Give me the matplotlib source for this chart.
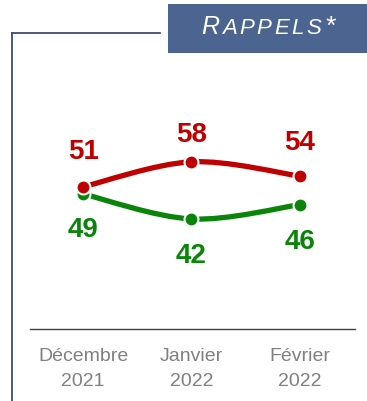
import matplotlib
matplotlib.use("Agg")
import matplotlib.pyplot as plt
import numpy as np
from matplotlib.path import Path
from matplotlib.patches import PathPatch, Rectangle
from matplotlib.lines import Line2D

plt.rcParams['font.family'] = ['Liberation Sans', 'DejaVu Sans']

months = ["Décembre\n2021", "Janvier\n2022", "Février\n2022"]
red_vals = [51, 58, 54]
green_vals = [49, 42, 46]

RED = "#c00000"
GREEN = "#0a850a"
NAVY = "#3a4d75"
BOX = "#4c6590"

# label offsets in points (above red, below green)
red_off = [25, 19, 24]
green_off = [-26, -27, -27]


def smooth_path(xs, ys):
    # cubic bezier through the points, Catmull-Rom style tangents
    pts = np.column_stack([xs, ys]).astype(float)
    n = len(pts)
    verts = [pts[0]]
    codes = [Path.MOVETO]
    for i in range(n - 1):
        p0 = pts[i - 1] if i > 0 else pts[i]
        p1 = pts[i]
        p2 = pts[i + 1]
        p3 = pts[i + 2] if i + 2 < n else pts[i + 1]
        c1 = p1 + (p2 - p0) / 6.0
        c2 = p2 - (p3 - p1) / 6.0
        verts += [c1, c2, p2]
        codes += [Path.CURVE4] * 3
    return Path(verts, codes)


fig = plt.figure(figsize=(3.67, 4.01), dpi=100)
W, H = 367, 401

ax = fig.add_axes([30 / W, 1 - 329 / H, 325 / W, 269 / H])
x = np.arange(len(months))

for vals, col, offs in [(green_vals, GREEN, green_off), (red_vals, RED, red_off)]:
    ax.add_patch(PathPatch(smooth_path(x, vals), fill=False, edgecolor=col,
                           lw=3.8, capstyle='round', zorder=2))
    ax.plot(x, vals, 'o', color=col, ms=10, mec='white', mew=1.5, zorder=3)
    for xi, v, o in zip(x, vals, offs):
        ax.annotate(str(v), (xi, v), xytext=(0, o), textcoords='offset points',
                    ha='center', va='center', fontsize=20, fontweight='bold',
                    color=col)

ax.set_xlim(-0.49, 2.51)
ax.set_ylim(11.2, 86.5)
ax.set_xticks(x)
ax.set_xticklabels(months, color="#808080", fontsize=14, linespacing=1.55)
ax.tick_params(axis='x', length=0, pad=14)
ax.set_yticks([])
for s in ['top', 'left', 'right']:
    ax.spines[s].set_visible(False)
ax.spines['bottom'].set_color("#404040")
ax.spines['bottom'].set_linewidth(1.0)

# frame lines around the panel
fig.add_artist(Line2D([11.5 / W, 11.5 / W], [0, 1 - 33 / H], color=NAVY, lw=1.3))
fig.add_artist(Line2D([11.5 / W, 160 / W], [1 - 33 / H, 1 - 33 / H], color=NAVY, lw=1.3))

# title box with spaced small caps
fig.add_artist(Rectangle((168 / W, 1 - 53 / H), 199 / W, 49 / H,
                         transform=fig.transFigure, facecolor=BOX, edgecolor='none'))
anchor = fig.text(201 / W, 1 - 38.5 / H, "R", color='white', fontsize=18,
                  style='italic', ha='left', va='bottom')
for ch in "APPELS*":
    size = 19 if ch == "*" else 16
    anchor = fig.add_artist(plt.Annotation(ch, xy=(1, 0), xycoords=anchor,
                                           xytext=(1.9, 0), textcoords='offset points',
                                           ha='left', va='bottom', color='white',
                                           fontsize=size, style='italic'))

fig.savefig("out.png", dpi=100, facecolor='white')
